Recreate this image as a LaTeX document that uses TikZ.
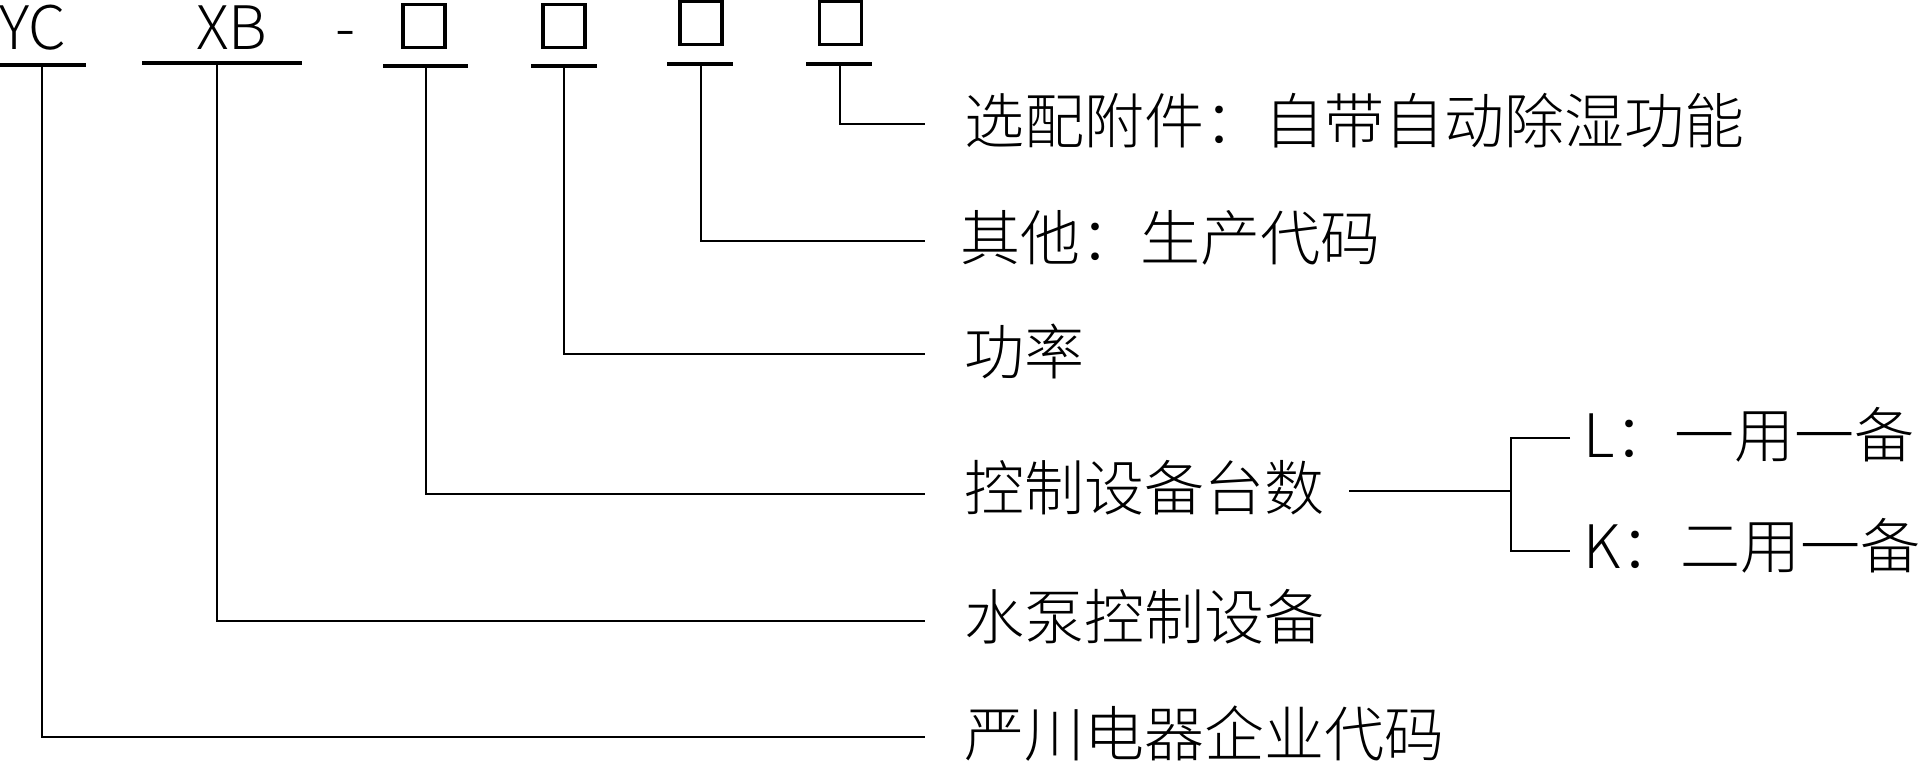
\documentclass[tikz,border=0pt]{standalone}
\usepackage{fontspec}
\newfontfamily\cjk{Noto Sans CJK SC}[UprightFont=* Light]
\begin{document}
\begin{tikzpicture}[x=1pt,y=-1pt,
  lbl/.style={font=\cjk\fontsize{60}{72}\selectfont, inner sep=0pt, anchor=west},
  code/.style={font=\cjk\fontsize{60}{72}\selectfont, inner sep=0pt, anchor=base west, text height=43pt, text depth=0pt},
  uline/.style={line width=3.2pt},
  conn/.style={line width=2.8pt},
  blank/.style={draw, line width=3.6pt, minimum width=42pt, minimum height=43pt, inner sep=0pt}]
\useasboundingbox (0,0) rectangle (1920,780);
% top code
\node[code] (yc) at (-1,49) {YC};
\node[code] (xb) at (196,49) {XB};
\node[code, text height=30pt] (dash) at (335,49) {-};
\node[blank] (b1) at (424,26) {};
\node[blank] (b2) at (564,26) {};
\node[blank] (b3) at (701,23) {};
\node[blank] (b4) at (840.5,23) {};
% underlines
\draw[uline] (0,65) -- (86,65);
\draw[uline] (142,63) -- (302,63);
\draw[uline] (383,66) -- (468,66);
\draw[uline] (531,66) -- (597,66);
\draw[uline] (667,64) -- (733,64);
\draw[uline] (806,64) -- (872,64);
\coordinate (v0) at (42,65);
\coordinate (v1) at (217,63);
\coordinate (v2) at (426,66);
\coordinate (v3) at (564,66);
\coordinate (v4) at (701,64);
\coordinate (v5) at (840,64);
% labels
\node[lbl] (l1) at (964,121) {选配附件：自带自动除湿功能};
\node[lbl] (l2) at (960,238) {其他：生产代码};
\node[lbl] (l3) at (964,351) {功率};
\node[lbl] (l4) at (964,488) {控制设备台数};
\node[lbl] (l5) at (964,617) {水泵控制设备};
\node[lbl] (l6) at (964,734) {严川电器企业代码};
\coordinate (e1) at (925,124);
\coordinate (e2) at (925,241);
\coordinate (e3) at (925,354);
\coordinate (e4) at (925,494);
\coordinate (e5) at (925,621);
\coordinate (e6) at (925,737);
\draw[conn] (v5) |- (e1);
\draw[conn] (v4) |- (e2);
\draw[conn] (v3) |- (e3);
\draw[conn] (v2) |- (e4);
\draw[conn] (v1) |- (e5);
\draw[conn] (v0) |- (e6);
% branch
\node[lbl] (lL) at (1583,435) {L：一用一备};
\node[lbl] (lK) at (1583,546) {K：二用一备};
\coordinate (bs) at (1349,491);
\coordinate (bj) at (1511,491);
\coordinate (bL) at (1570,438);
\coordinate (bK) at (1570,551);
\draw[conn] (bs) -- (bj);
\draw[conn] (bL) -| (bj) |- (bK);
\end{tikzpicture}
\end{document}
